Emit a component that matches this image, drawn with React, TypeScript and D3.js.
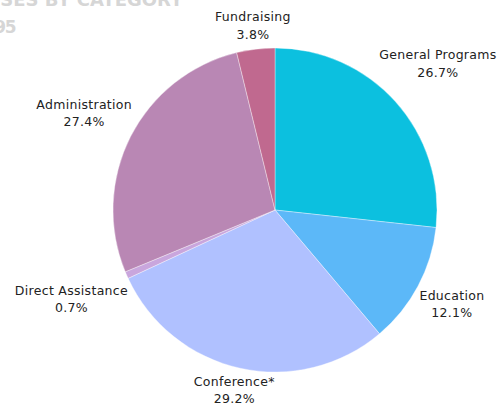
import React, { useEffect, useRef } from "react";
import * as d3 from "d3";

const categories = ["General Programs", "Education", "Conference*", "Direct Assistance", "Administration", "Fundraising"];
const values = [26.7, 12.1, 29.2, 0.7, 27.4, 3.8];
const colors = ["#0cc0df", "#5cb8f8", "#b0c1ff", "#c9a6dd", "#b987b4", "#c0698f"];
const titleLines = ["EXPENSES BY CATEGORY", "FY 1995"];

const W = 502;
const H = 404;

export default function App() {
  const ref = useRef<SVGSVGElement>(null);

  useEffect(() => {
    const svg = d3.select(ref.current);
    svg.selectAll("*").remove();

    // faded title, partially cut off at the top-left
    svg.append("text")
      .attr("x", 183).attr("y", 6)
      .attr("text-anchor", "end")
      .attr("font-family", "'DejaVu Sans', sans-serif")
      .attr("font-weight", 700)
      .attr("font-size", 18)
      .attr("fill", "#d6d6d6")
      .text(titleLines[0]);
    svg.append("text")
      .attr("x", 15).attr("y", 33)
      .attr("text-anchor", "end")
      .attr("font-family", "'DejaVu Sans', sans-serif")
      .attr("font-weight", 700)
      .attr("font-size", 17)
      .attr("letter-spacing", -1.5)
      .attr("fill", "#d6d6d6")
      .text(titleLines[1]);

    const cx = 275, cy = 210, r = 162;
    const data = categories.map((c, i) => ({ name: c, value: values[i], color: colors[i] }));
    const pie = d3.pie<any>().value((d) => d.value).sort(null);
    const arcs = pie(data);
    const arc = d3.arc<any>().innerRadius(0).outerRadius(r);

    const g = svg.append("g").attr("transform", `translate(${cx},${cy})`);
    g.selectAll("path")
      .data(arcs)
      .enter()
      .append("path")
      .attr("d", arc as any)
      .attr("fill", (d: any) => d.data.color)
      .attr("stroke", "rgba(255,255,255,0.6)")
      .attr("stroke-width", 0.6);

    const total = d3.sum(values);
    const R0 = r + 1.5;
    arcs.forEach((a: any) => {
      const mid = (a.startAngle + a.endAngle) / 2;
      const vx = Math.sin(mid);
      const vy = -Math.cos(mid);
      const lg = g.append("g");
      const t = lg.append("text")
        .attr("text-anchor", "middle")
        .attr("font-family", "'DejaVu Sans', sans-serif")
        .attr("font-size", 12.5)
        .attr("letter-spacing", 0.3)
        .attr("fill", "#222");
      t.append("tspan").attr("x", 0).attr("y", -4.5).text(a.data.name);
      t.append("tspan").attr("x", 0).attr("y", 13).text(((a.data.value / total) * 100).toFixed(1) + "%");
      const bb = (t.node() as SVGTextElement).getBBox();
      const w = bb.width, h = 35;
      const dist = R0 + (w / 2) * Math.abs(vx) + (h / 2) * Math.abs(vy);
      let px = dist * vx;
      let py = dist * vy;
      // clamp the label block inside the canvas
      const maxY = H - 1 - 13 - cy;
      if (py > maxY) py = maxY;
      lg.attr("transform", `translate(${px},${py})`);
    });
  }, []);

  return (
    <svg
      ref={ref}
      width={W}
      height={H}
      style={{ position: "absolute", left: 0, top: 0, background: "#fff" }}
    />
  );
}
